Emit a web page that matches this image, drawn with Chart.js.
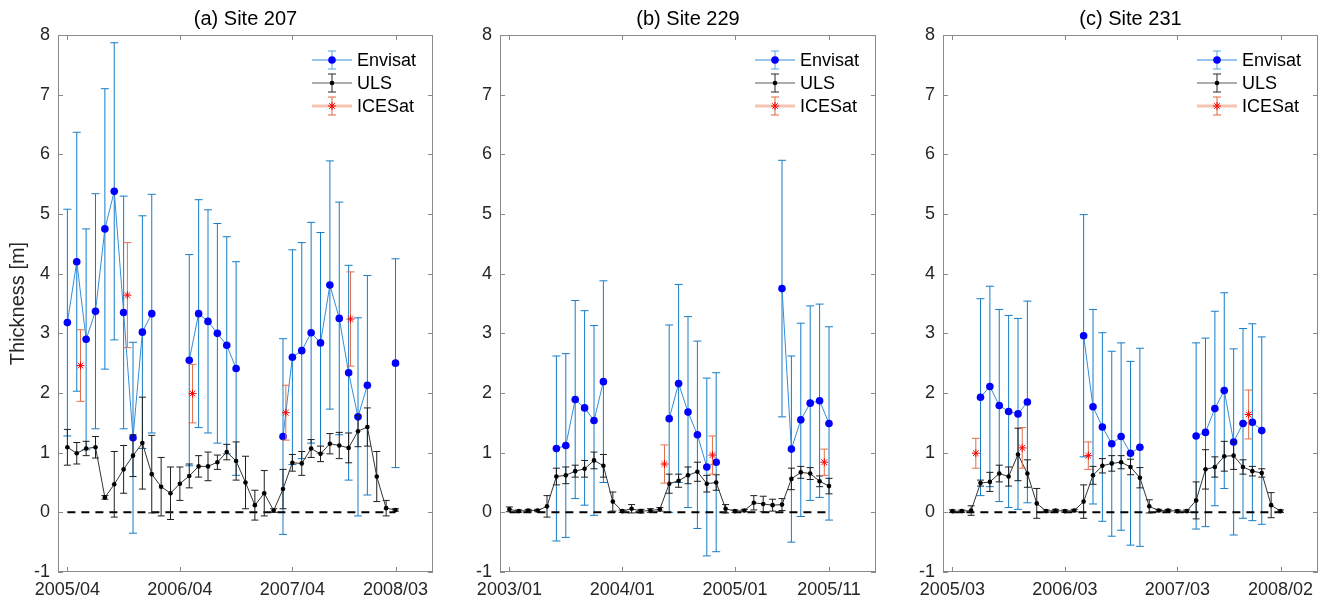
<!DOCTYPE html>
<html>
<head>
<meta charset="utf-8">
<title>Ice thickness at sites 207, 229 and 231</title>
<script src="https://cdn.jsdelivr.net/npm/chart.js@4.4.1/dist/chart.umd.min.js"></script>
<style>
  html, body { margin: 0; padding: 0; background: #fff; }
  #wrap { position: relative; width: 1328px; height: 606px; overflow: hidden; }
  canvas { position: absolute; top: 0; }
</style>
</head>
<body>
<div id="wrap">
  <canvas id="site207" width="445" height="606" style="left:0px"></canvas>
  <canvas id="site229" width="443" height="606" style="left:445px"></canvas>
  <canvas id="site231" width="440" height="606" style="left:888px"></canvas>
</div>
<script>
const FONT = "'Liberation Sans', Arial, Helvetica, sans-serif";

// x values are month indices counted from the first tick label of each panel

// (a) Site 207, 2005/04 .. 2008/03
const site207Ticks = [0, 12, 24, 35];
const site207TickLabels = ['2005/04', '2006/04', '2007/04', '2008/03'];
const site207Envisat = [3.18, 4.20, 2.90, 3.37, 4.75, 5.38, 3.35, 1.25, 3.02, 3.33, null, null, null, 2.55, 3.33, 3.20, 3.00, 2.80, 2.41, null, null, null, null, 1.27, 2.60, 2.71, 3.01, 2.84, 3.81, 3.25, 2.34, 1.60, 2.13, null, null, 2.50];
const site207EnvisatErr = [1.90, 2.17, 1.85, 1.97, 2.35, 2.49, 1.95, 1.60, 1.95, 2.00, null, null, null, 1.77, 1.91, 1.87, 1.84, 1.82, 1.79, null, null, null, null, 1.64, 1.80, 1.81, 1.85, 1.85, 2.08, 1.95, 1.80, 1.66, 1.84, null, null, 1.75];
const site207Uls = [1.09, 0.99, 1.07, 1.09, 0.25, 0.47, 0.72, 0.95, 1.16, 0.64, 0.43, 0.32, 0.48, 0.61, 0.77, 0.77, 0.84, 1.01, 0.86, 0.50, 0.12, 0.32, 0.03, 0.39, 0.83, 0.82, 1.07, 0.98, 1.15, 1.12, 1.08, 1.36, 1.43, 0.60, 0.07, 0.04];
const site207UlsErr = [0.30, 0.18, 0.12, 0.18, 0.03, 0.55, 0.40, 0.35, 0.77, 0.65, 0.49, 0.44, 0.28, 0.20, 0.18, 0.24, 0.12, 0.13, 0.32, 0.44, 0.25, 0.38, 0.03, 0.33, 0.14, 0.20, 0.15, 0.13, 0.17, 0.22, 0.25, 0.26, 0.32, 0.42, 0.13, 0.02];
const site207IceMonth = [1.4, 6.4, 13.35, 23.3, 30.2];
const site207Ice = [2.46, 3.64, 1.99, 1.67, 3.24];
const site207IceErr = [0.60, 0.88, 0.49, 0.46, 0.79];

// (b) Site 229, 2003/01 .. 2005/11
const site229Ticks = [0, 12, 24, 34];
const site229TickLabels = ['2003/01', '2004/01', '2005/01', '2005/11'];
const site229Envisat = [null, null, null, null, null, 1.07, 1.12, 1.89, 1.75, 1.54, 2.19, null, null, null, null, null, null, 1.57, 2.16, 1.68, 1.30, 0.76, 0.84, null, null, null, null, null, null, 3.75, 1.06, 1.55, 1.83, 1.87, 1.49];
const site229EnvisatErr = [null, null, null, null, null, 1.55, 1.54, 1.66, 1.63, 1.59, 1.69, null, null, null, null, null, null, 1.57, 1.66, 1.60, 1.57, 1.49, 1.50, null, null, null, null, null, null, 2.15, 1.56, 1.62, 1.63, 1.62, 1.62];
const site229Uls = [0.05, 0.02, 0.03, 0.03, 0.10, 0.60, 0.62, 0.69, 0.73, 0.87, 0.78, 0.18, 0.02, 0.06, 0.02, 0.03, 0.05, 0.48, 0.53, 0.62, 0.68, 0.48, 0.50, 0.06, 0.02, 0.03, 0.16, 0.14, 0.12, 0.13, 0.56, 0.67, 0.65, 0.52, 0.44];
const site229UlsErr = [0.04, 0.02, 0.02, 0.02, 0.18, 0.14, 0.14, 0.10, 0.14, 0.14, 0.19, 0.16, 0.02, 0.07, 0.03, 0.03, 0.03, 0.16, 0.11, 0.14, 0.16, 0.14, 0.13, 0.07, 0.02, 0.02, 0.12, 0.13, 0.10, 0.10, 0.18, 0.10, 0.10, 0.09, 0.13];
const site229IceMonth = [16.5, 21.6, 33.5];
const site229Ice = [0.81, 0.96, 0.84];
const site229IceErr = [0.32, 0.32, 0.22];

// (c) Site 231, 2005/03 .. 2008/02
const site231Ticks = [0, 12, 24, 35];
const site231TickLabels = ['2005/03', '2006/03', '2007/03', '2008/02'];
const site231Envisat = [null, null, null, 1.93, 2.11, 1.79, 1.69, 1.65, 1.85, null, null, null, null, null, 2.96, 1.77, 1.43, 1.15, 1.27, 0.99, 1.09, null, null, null, null, null, 1.28, 1.34, 1.74, 2.04, 1.18, 1.49, 1.51, 1.37, null, null];
const site231EnvisatErr = [null, null, null, 1.65, 1.68, 1.61, 1.61, 1.60, 1.69, null, null, null, null, null, 2.03, 1.63, 1.58, 1.55, 1.57, 1.54, 1.66, null, null, null, null, null, 1.56, 1.58, 1.63, 1.64, 1.56, 1.59, 1.65, 1.57, null, null];
const site231Uls = [0.02, 0.02, 0.03, 0.49, 0.51, 0.65, 0.60, 0.97, 0.65, 0.15, 0.02, 0.03, 0.02, 0.03, 0.18, 0.62, 0.78, 0.82, 0.84, 0.76, 0.58, 0.10, 0.03, 0.03, 0.02, 0.02, 0.20, 0.72, 0.76, 0.94, 0.95, 0.76, 0.69, 0.66, 0.12, 0.02];
const site231UlsErr = [0.02, 0.02, 0.08, 0.05, 0.16, 0.14, 0.16, 0.44, 0.23, 0.25, 0.02, 0.02, 0.02, 0.02, 0.28, 0.15, 0.12, 0.13, 0.11, 0.13, 0.17, 0.11, 0.02, 0.02, 0.02, 0.02, 0.31, 0.33, 0.17, 0.25, 0.23, 0.12, 0.08, 0.07, 0.21, 0.02];
const site231IceMonth = [2.5, 7.45, 14.5, 31.6];
const site231Ice = [0.99, 1.08, 0.95, 1.64];
const site231IceErr = [0.25, 0.34, 0.23, 0.41];

const yTicks = [-1, 0, 1, 2, 3, 4, 5, 6, 7, 8];

// Vertical error bars with caps, drawn just before their own dataset
const errorBars = {
    id: 'errorBars',
    beforeDatasetDraw(chart, args) {
        const ds = chart.data.datasets[args.index];
        if (!ds.errors) return;
        const y = chart.scales.y;
        const ctx = chart.ctx;
        const cap = ds.capHalf || 4;
        ctx.save();
        ctx.strokeStyle = ds.errColor;
        ctx.lineWidth = 1;
        args.meta.data.forEach((pt, i) => {
            const v = ds.data[i].y;
            const e = ds.errors[i];
            if (v == null || e == null) return;
            const top = y.getPixelForValue(v + e);
            const bot = y.getPixelForValue(v - e);
            const x = pt.x;
            ctx.beginPath();
            ctx.moveTo(x, top); ctx.lineTo(x, bot);
            ctx.moveTo(x - cap, top); ctx.lineTo(x + cap, top);
            ctx.moveTo(x - cap, bot); ctx.lineTo(x + cap, bot);
            ctx.stroke();
        });
        ctx.restore();
    }
};

// Box around the plot with inward tick marks on all four sides
const axesBox = {
    id: 'axesBox',
    afterDatasetsDraw(chart) {
        const { ctx, chartArea: a, scales: { x, y } } = chart;
        const tl = 5;
        ctx.save();
        ctx.strokeStyle = '#8a8a8a';
        ctx.lineWidth = 1;
        ctx.strokeRect(a.left + 0.5, a.top + 0.5, a.right - a.left - 1, a.bottom - a.top - 1);
        ctx.beginPath();
        chart.options.plugins.axesBox.xTicks.forEach(v => {
            const px = Math.round(x.getPixelForValue(v)) + 0.5;
            ctx.moveTo(px, a.bottom); ctx.lineTo(px, a.bottom - tl);
            ctx.moveTo(px, a.top); ctx.lineTo(px, a.top + tl);
        });
        yTicks.forEach(v => {
            const py = Math.round(y.getPixelForValue(v)) + 0.5;
            ctx.moveTo(a.left, py); ctx.lineTo(a.left + tl, py);
            ctx.moveTo(a.right, py); ctx.lineTo(a.right - tl, py);
        });
        ctx.stroke();
        ctx.restore();
    }
};

const legendRows = [
    { label: 'Envisat', line: 'rgb(52,140,215)', lineWidth: 1, err: 'rgb(80,165,228)', fill: '#0000ff', stroke: '#0000ff',
      point: { pointStyle: 'circle', radius: 3.8, borderWidth: 0, rotation: 0 } },
    { label: 'ULS', line: 'rgb(90,90,90)', lineWidth: 1, err: 'rgb(40,40,40)', fill: '#000', stroke: '#000',
      point: { pointStyle: 'circle', radius: 2.3, borderWidth: 0, rotation: 0 } },
    { label: 'ICESat', line: 'rgb(247,196,178)', lineWidth: 3, err: 'rgb(226,100,60)', fill: '#ff0000', stroke: '#ff0000',
      point: { pointStyle: 'star', radius: 4, borderWidth: 1, rotation: 0 } }
];

// Legend in the top right corner of the plot, one errorbar glyph per series
const cornerLegend = {
    id: 'cornerLegend',
    afterDraw(chart) {
        const { ctx, chartArea: a } = chart;
        const mx = a.right - 101;
        const tx = a.right - 76;
        ctx.save();
        legendRows.forEach((row, k) => {
            const cy = a.top + 25 + k * 23;
            ctx.strokeStyle = row.line;
            ctx.lineWidth = row.lineWidth;
            ctx.beginPath();
            ctx.moveTo(mx - 20, cy); ctx.lineTo(mx + 20, cy);
            ctx.stroke();
            ctx.strokeStyle = row.err;
            ctx.lineWidth = 1;
            ctx.beginPath();
            ctx.moveTo(mx, cy - 9); ctx.lineTo(mx, cy + 9);
            ctx.moveTo(mx - 4, cy - 9); ctx.lineTo(mx + 4, cy - 9);
            ctx.moveTo(mx - 4, cy + 9); ctx.lineTo(mx + 4, cy + 9);
            ctx.stroke();
            ctx.fillStyle = row.fill;
            ctx.strokeStyle = row.stroke;
            ctx.lineWidth = row.point.borderWidth || 1;
            Chart.helpers.drawPoint(ctx, row.point, mx, cy);
            ctx.fillStyle = '#000';
            ctx.font = '18px ' + FONT;
            ctx.textAlign = 'left';
            ctx.textBaseline = 'middle';
            ctx.fillText(row.label, tx, cy + 1);
        });
        ctx.restore();
    }
};

function toPoints(vals) {
    return vals.map((v, i) => ({ x: i, y: v }));
}

function makePanel(cfg) {
    const last = cfg.ticks[cfg.ticks.length - 1];
    new Chart(document.getElementById(cfg.id), {
        type: 'line',
        data: {
            datasets: [
                {
                    label: 'Envisat',
                    data: toPoints(cfg.envisat),
                    errors: cfg.envisatErr,
                    errColor: 'rgb(20,125,200)',
                    capHalf: 4,
                    borderColor: 'rgb(52,140,215)',
                    borderWidth: 1,
                    pointRadius: 3.8,
                    pointBorderWidth: 0,
                    pointBackgroundColor: '#0000ff',
                    spanGaps: false,
                    order: 4
                },
                {
                    label: 'zero',
                    data: [{ x: 0, y: 0 }, { x: last, y: 0 }],
                    borderColor: '#000',
                    borderWidth: 2,
                    borderDash: [8, 6],
                    pointRadius: 0,
                    order: 3
                },
                {
                    label: 'ULS',
                    data: toPoints(cfg.uls),
                    errors: cfg.ulsErr,
                    errColor: 'rgb(30,30,30)',
                    capHalf: 3.5,
                    borderColor: 'rgb(50,50,50)',
                    borderWidth: 1,
                    pointRadius: 2.3,
                    pointBorderWidth: 0,
                    pointBackgroundColor: '#000',
                    order: 2
                },
                {
                    label: 'ICESat',
                    data: cfg.iceMonth.map((m, i) => ({ x: m, y: cfg.ice[i] })),
                    errors: cfg.iceErr,
                    errColor: 'rgb(230,110,75)',
                    capHalf: 4,
                    showLine: false,
                    pointStyle: 'star',
                    pointRadius: 4,
                    pointBorderWidth: 1,
                    pointBorderColor: '#ff0000',
                    pointBackgroundColor: '#ff0000',
                    order: 1
                }
            ]
        },
        options: {
            responsive: false,
            animation: false,
            devicePixelRatio: 1,
            layout: { padding: { left: 0, right: cfg.padRight, top: 0, bottom: 0 } },
            scales: {
                x: {
                    type: 'linear',
                    min: -1,
                    max: 39,
                    grid: { display: false, drawTicks: false },
                    border: { display: false },
                    afterBuildTicks: scale => { scale.ticks = cfg.ticks.map(v => ({ value: v })); },
                    afterFit: scale => { scale.height = 34; },
                    ticks: {
                        autoSkip: false,
                        maxRotation: 0,
                        padding: 7,
                        color: '#262626',
                        font: { family: FONT, size: 18 },
                        callback: value => cfg.tickLabels[cfg.ticks.indexOf(value)]
                    }
                },
                y: {
                    min: -1,
                    max: 8,
                    grid: { display: false, drawTicks: false },
                    border: { display: false },
                    afterFit: scale => { scale.width = cfg.yWidth; },
                    ticks: {
                        stepSize: 1,
                        padding: 8,
                        color: '#262626',
                        font: { family: FONT, size: 18 }
                    },
                    title: {
                        display: !!cfg.yTitle,
                        text: cfg.yTitle || '',
                        color: '#262626',
                        font: { family: FONT, size: 20 },
                        padding: { top: 6, bottom: 0 }
                    }
                }
            },
            plugins: {
                legend: { display: false },
                tooltip: { enabled: false },
                title: {
                    display: true,
                    text: cfg.title,
                    fullSize: false,
                    color: '#000',
                    font: { family: FONT, size: 20, weight: 'normal' },
                    padding: { top: 7, bottom: 4 }
                },
                axesBox: { xTicks: cfg.ticks }
            }
        },
        plugins: [errorBars, axesBox, cornerLegend]
    });
}

makePanel({
    id: 'site207', title: '(a) Site 207', yTitle: 'Thickness [m]', yWidth: 58, padRight: 12,
    ticks: site207Ticks, tickLabels: site207TickLabels,
    envisat: site207Envisat, envisatErr: site207EnvisatErr,
    uls: site207Uls, ulsErr: site207UlsErr,
    iceMonth: site207IceMonth, ice: site207Ice, iceErr: site207IceErr
});

makePanel({
    id: 'site229', title: '(b) Site 229', yWidth: 55, padRight: 12,
    ticks: site229Ticks, tickLabels: site229TickLabels,
    envisat: site229Envisat, envisatErr: site229EnvisatErr,
    uls: site229Uls, ulsErr: site229UlsErr,
    iceMonth: site229IceMonth, ice: site229Ice, iceErr: site229IceErr
});

makePanel({
    id: 'site231', title: '(c) Site 231', yWidth: 55, padRight: 10,
    ticks: site231Ticks, tickLabels: site231TickLabels,
    envisat: site231Envisat, envisatErr: site231EnvisatErr,
    uls: site231Uls, ulsErr: site231UlsErr,
    iceMonth: site231IceMonth, ice: site231Ice, iceErr: site231IceErr
});
</script>
</body>
</html>
